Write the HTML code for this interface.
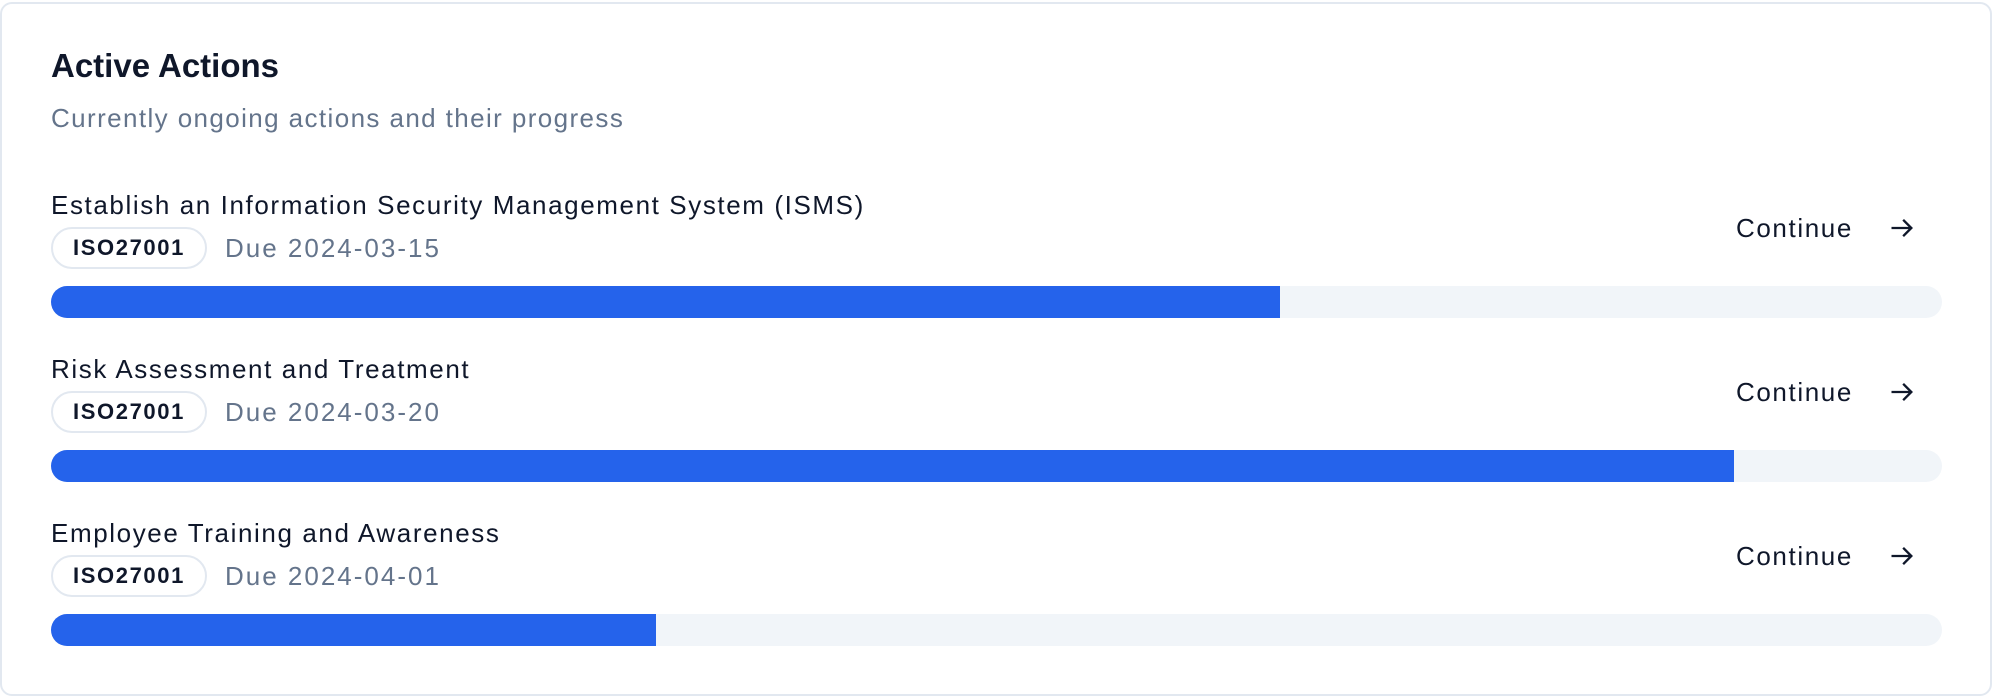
<!DOCTYPE html>
<html><head><meta charset="utf-8"><style>
body{margin:0;width:1992px;height:696px;background:#fff;font-family:"Liberation Sans",sans-serif;overflow:hidden}
#card{position:absolute;left:0;top:2px;width:1988px;height:690px;border:2px solid #e2e8f0;border-radius:12px;background:#fff}
.abs{position:absolute;white-space:nowrap}
</style></head><body>
<div id="card"></div>
<div class="abs" style="left:51px;top:47px;font-size:33px;font-weight:bold;color:#0f172a;letter-spacing:0px">Active Actions</div>
<div class="abs" style="left:51px;top:103px;font-size:26px;color:#64748b;letter-spacing:1.4px">Currently ongoing actions and their progress</div>
<div id="rows"></div>
<script>
const titles=["Establish an Information Security Management System (ISMS)","Risk Assessment and Treatment","Employee Training and Awareness"];
const tags=["ISO27001","ISO27001","ISO27001"];
const dues=["Due 2024-03-15","Due 2024-03-20","Due 2024-04-01"];
const progress=[65,89,32];
const rows=document.getElementById('rows');
const x0=51,w=1891,step=164;
function add(html,name,inter){const d=document.createElement('div');d.className='abs';d.innerHTML=html;


rows.appendChild(d);return d;}
titles.forEach((t,i)=>{
 const o=i*step;
 let e=add(t,'action-title','false');e.style.cssText=`left:${x0}px;top:${o+190}px;font-size:26px;color:#0f172a;letter-spacing:1.6px`;
 e=add(tags[i],'framework-badge','false');e.style.cssText=`left:${x0}px;top:${o+227}px;width:152px;height:38px;border:2px solid #e2e8f0;border-radius:21px;font-size:22px;font-weight:bold;color:#0f172a;text-align:center;line-height:38px;letter-spacing:1.6px`;
 e=add(dues[i],'due-date','false');e.style.cssText=`left:225px;top:${o+233}px;font-size:26px;color:#64748b;letter-spacing:2px`;
 e=add('Continue','continue-button','true');e.style.cssText=`left:1736px;top:${o+213}px;font-size:26px;color:#0f172a;letter-spacing:1.6px`;
 e=add('<svg width="28" height="28" viewBox="0 0 24 24"><path d="M3 12h17M13 5l7 7-7 7" fill="none" stroke="#0f172a" stroke-width="2"/></svg>','continue-arrow-icon','true');e.style.cssText=`left:1888px;top:${o+214}px`;
 e=add('','progress-track','false');e.style.cssText=`left:${x0}px;top:${o+286}px;width:${w}px;height:32px;border-radius:16px;background:#f1f5f9;overflow:hidden`;
 const f=document.createElement('div');
 
 
 f.style.cssText=`width:${w*progress[i]/100}px;height:32px;background:#2563eb`;
 e.appendChild(f);
});
</script>
</body></html>
